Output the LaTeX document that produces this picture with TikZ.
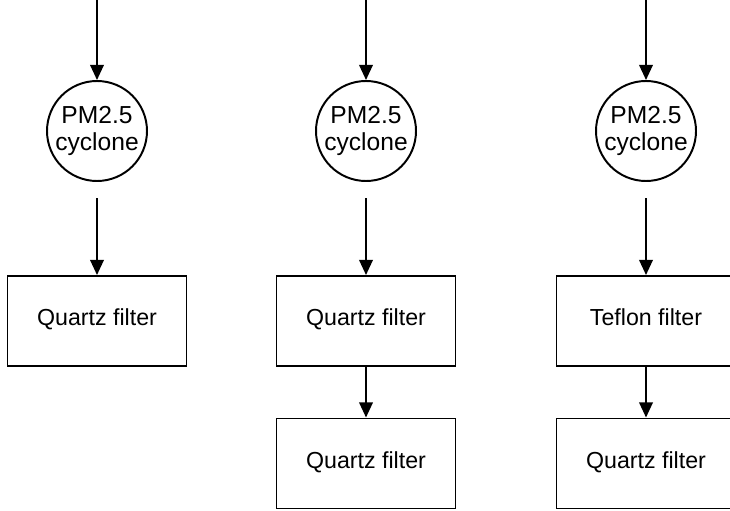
\documentclass[tikz,border=0pt]{standalone}
\usepackage{fontspec}
\setmainfont{Liberation Sans}
\usetikzlibrary{arrows.meta}
\usetikzlibrary{positioning}

\tikzset{
  flow/.style={-{Triangle[length=3.8mm,width=3.4mm]}, line width=1.4pt},
  cyclonenode/.style={circle, draw, line width=1.4pt, minimum size=2.5cm, inner sep=0pt, align=center, font=\fontsize{17.5}{19}\selectfont},
  filterbox/.style={rectangle, draw, line width=1.4pt, minimum width=4.475cm, minimum height=2.25cm, text height=.72em, text depth=.02em, font=\fontsize{16.5}{19}\selectfont},
}

\begin{document}
\begin{tikzpicture}
  \useasboundingbox (0,0) rectangle (18.25,12.75);

	\foreach \col/\x in {a/2.425, b/9.15, c/16.15}{
		\coordinate (in\col) at (\x,12.75);
		\node[cyclonenode] (cyc\col) at (\x,9.475) {PM2.5\\cyclone};
		\coordinate (out\col) at (\x,7.8);
		\draw[flow] (in\col) -- (cyc\col);
	};

\node[filterbox] (quartza) at (2.425,4.725) {Quartz filter};
\node[filterbox] (quartzb) at (9.15,4.725) {Quartz filter};
\node[filterbox] (teflonc) at (16.15,4.725) {Teflon filter};
\node[filterbox] (backupb) at (9.15,1.1625) {Quartz filter};
\node[filterbox] (backupc) at (16.15,1.1625) {Quartz filter};

\draw[flow] (outa) -- (quartza);
\draw[flow] (outb) -- (quartzb);
\draw[flow] (outc) -- (teflonc);
\draw[flow] (quartzb) -- (backupb);
\draw[flow] (teflonc) -- (backupc);

\end{tikzpicture}
\end{document}
